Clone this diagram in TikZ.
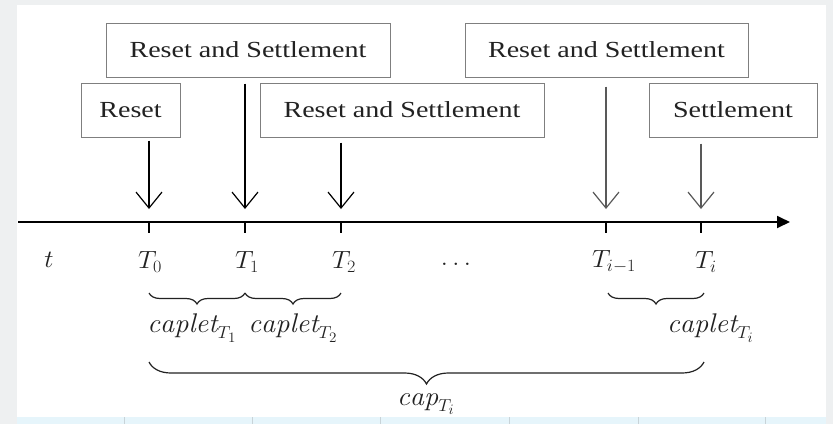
\documentclass[tikz,border=0pt]{standalone}
\usepackage{graphicx}
\usepackage{fontspec}
\newfontfamily\boxfont[FakeStretch=1.22]{Liberation Serif}
\usetikzlibrary{arrows.meta,decorations.pathreplacing}
\definecolor{boxgray}{HTML}{7F7F7F}
\definecolor{txt}{HTML}{222222}
\definecolor{bggray}{HTML}{EEF0F1}
\definecolor{stripblue}{HTML}{E6F5FB}
\definecolor{stripline}{HTML}{C8D3D8}
\newcommand{\mlab}[1]{\scalebox{1.05}[1]{$#1$}}
\tikzset{
  evbox/.style={draw=boxgray, line width=1pt, fill=white, text=txt, inner sep=0pt,
    font=\boxfont\fontsize{23}{26}\selectfont},
  downarr/.style={-{Straight Barb[length=16pt,width=26pt,line width=1.2pt]}, line width=1.3pt},
  axisline/.style={line width=1.8pt, -{Triangle[length=13pt,width=12pt]}},
  tickline/.style={line width=1.5pt},
  lab/.style={text=txt, font=\fontsize{27}{31}\selectfont, inner sep=0pt},
  smallbrace/.style={decorate, decoration={brace, mirror, amplitude=11pt}, line width=1.2pt, draw=txt},
  bigbrace/.style={decorate, decoration={brace, mirror, amplitude=22pt, aspect=0.5}, line width=1.2pt, draw=txt},
}
\begin{document}
\begin{tikzpicture}[x=1pt,y=-1pt]
\useasboundingbox (0,0) rectangle (833,424);
% background (screenshot frame)
\fill[bggray] (0,0) rectangle (833,424);
\fill[white] (17,5) rectangle (826,417);
\fill[stripblue] (17,417) rectangle (826,424);
\foreach \xx in {124,252,380,509,638,765}
  \draw[stripline, line width=0.8pt] (\xx,417) -- (\xx,424);

% boxes
\node[evbox, minimum width=284pt, minimum height=54pt] (rs1) at (248,50) {Reset and Settlement};
\node[evbox, minimum width=283pt, minimum height=54pt] (rs2) at (606.5,50) {Reset and Settlement};
\node[evbox, minimum width=99pt, minimum height=54pt] (reset) at (130.5,110) {Reset};
\node[evbox, minimum width=284pt, minimum height=54pt] (rs3) at (402,110) {Reset and Settlement};
\node[evbox, minimum width=168pt, minimum height=54pt] (settle) at (733,110) {Settlement};

% axis
\coordinate (axL) at (18,222);
\coordinate (axR) at (790,222);
\draw[axisline] (axL) -- (axR);

% tick points
\coordinate (p0) at (149,222);
\coordinate (p1) at (245,222);
\coordinate (p2) at (341,222);
\coordinate (p3) at (606,222);
\coordinate (p4) at (701,222);
\foreach \p in {p0,p1,p2,p3,p4}
  \draw[tickline] (\p) -- ++(0,11);

% arrows from boxes to the axis
\draw[downarr] ([yshift=-3pt]reset.south -| p0) -- ([yshift=13pt]p0);
\draw[downarr] ([yshift=-6pt]rs1.south -| p1) -- ([yshift=13pt]p1);
\draw[downarr] ([yshift=-5pt]rs3.south -| p2) -- ([yshift=13pt]p2);
\draw[downarr, draw=black!65] ([yshift=-9pt]rs2.south -| p3) -- ([yshift=13pt]p3);
\draw[downarr, draw=black!65] ([yshift=-6pt]settle.south -| p4) -- ([yshift=13pt]p4);

% labels under the axis
\node[lab] (lt) at (49,260) {\mlab{t}};
\node[lab] (l0) at (150,262) {\mlab{T_0}};
\node[lab] (l1) at (247,262) {\mlab{T_1}};
\node[lab] (l2) at (344,262) {\mlab{T_2}};
\node[lab] (ld) at (456,264) {\mlab{\ldots}};
\node[lab] (l3) at (614,262) {\mlab{T_{i-1}}};
\node[lab] (l4) at (706,262) {\mlab{T_i}};

% braces
\coordinate (b0) at (149,293);
\coordinate (b1) at (245,293);
\coordinate (b2) at (341,293);
\coordinate (b3) at (608,293);
\coordinate (b4) at (704,293);
\draw[smallbrace] (b0) -- (b1);
\draw[smallbrace] (b1) -- (b2);
\draw[smallbrace] (b3) -- (b4);
\node[lab] (c1) at (192,328) {\mlab{\mathit{caplet}_{T_1}}};
\node[lab] (c2) at (293,328) {\mlab{\mathit{caplet}_{T_2}}};
\node[lab] (ci) at (754,328) [anchor=east] {\mlab{\mathit{caplet}_{T_i}}};

\coordinate (B0) at (149,362);
\coordinate (B4) at (704,362);
\draw[bigbrace] (B0) -- (B4);
\node[lab] (cap) at (426,404) {\mlab{\mathit{cap}_{T_i}}};
\end{tikzpicture}
\end{document}
